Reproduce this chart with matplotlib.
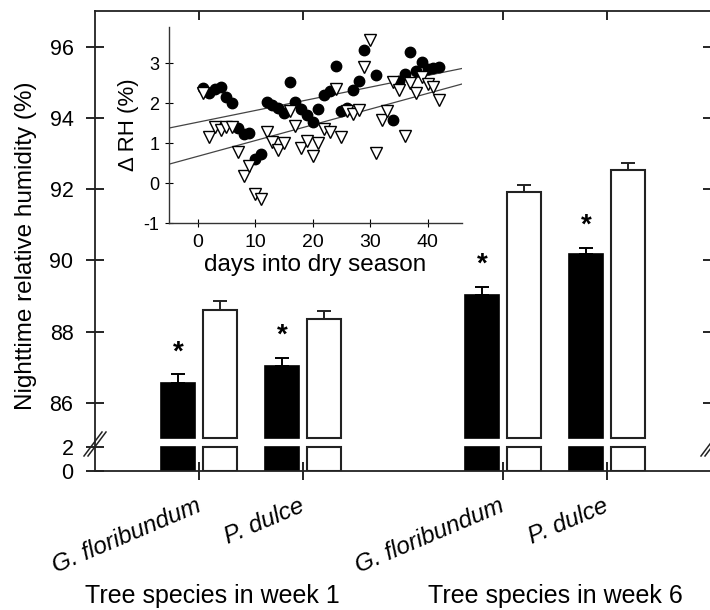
import numpy as np
import matplotlib
matplotlib.use("Agg")
import matplotlib.pyplot as plt
from matplotlib.lines import Line2D
from matplotlib.transforms import blended_transform_factory

plt.rcParams['font.family'] = ['Liberation Sans', 'DejaVu Sans']
plt.rcParams['axes.unicode_minus'] = False

# bar chart: week 1 G. floribundum, week 1 P. dulce, week 6 G. floribundum, week 6 P. dulce
species = ["G. floribundum", "P. dulce", "G. floribundum", "P. dulce"]
week_labels = ["Tree species in week 1", "Tree species in week 6"]
rh_filled = np.array([86.56, 87.03, 89.03, 90.17])
err_filled = np.array([0.24, 0.24, 0.23, 0.19])
rh_open = np.array([88.61, 88.35, 91.92, 92.55])
err_open = np.array([0.24, 0.22, 0.19, 0.19])
signif = [True, True, True, True]

# inset: delta RH vs days into dry season
days_circ = [1, 2, 3, 4, 5, 6, 7, 8, 9, 10, 11, 12, 13, 14, 15, 16, 17, 18, 19, 20,
             21, 22, 23, 24, 25, 26, 27, 28, 29, 31, 34, 35, 36, 37, 38, 39, 40, 41, 42]
drh_circ = [2.37, 2.25, 2.35, 2.40, 2.15, 2.00, 1.37, 1.22, 1.26, 0.60, 0.72, 2.03, 1.95,
            1.87, 1.75, 2.52, 2.02, 1.85, 1.70, 1.52, 1.85, 2.20, 2.31, 2.93, 1.80, 1.87,
            2.33, 2.56, 3.33, 2.70, 1.57, 2.55, 2.73, 3.27, 2.80, 3.02, 2.85, 2.88, 2.89]
days_tri = [1, 2, 3, 4, 5, 6, 7, 8, 9, 10, 11, 12, 13, 14, 15, 16, 17, 18, 19, 20, 21,
            22, 23, 24, 25, 26, 27, 28, 29, 30, 31, 32, 33, 34, 35, 36, 37, 38, 39, 40, 41, 42]
drh_tri = [2.24, 1.16, 1.41, 1.33, 1.41, 1.41, 0.78, 0.18, 0.42, -0.28, -0.40, 1.28, 1.02,
           0.82, 0.99, 1.79, 1.43, 0.87, 1.04, 0.68, 0.99, 1.35, 1.27, 2.35, 1.14, 1.81,
           1.72, 1.82, 2.91, 3.58, 0.74, 1.58, 1.79, 2.52, 2.33, 1.18, 2.49, 2.24, 2.66,
           2.48, 2.39, 2.08]
fit_circ = (1.52, 0.0292)   # intercept, slope
fit_tri = (0.667, 0.0393)

W, H = 710, 610


def box(l, t, r, b):
    return [l / W, 1 - b / H, (r - l) / W, (b - t) / H]


fig = plt.figure(figsize=(7.1, 6.1), dpi=100)
ax = fig.add_axes(box(95, 11, 712, 442))
axl = fig.add_axes(box(95, 442, 712, 471))

pos = np.array([1, 2, 3.92, 4.92])
off, bw = 0.2, 0.33
break_lo = 85.0

# upper part of the broken bars
ax.bar(pos - off, rh_filled - break_lo, bottom=break_lo, width=bw,
       color='black', edgecolor='black', lw=1.2)
ax.bar(pos + off, rh_open - break_lo, bottom=break_lo, width=bw,
       color='white', edgecolor='#222222', lw=1.5)
ax.errorbar(pos - off, rh_filled, yerr=[np.zeros(4), err_filled], fmt='none',
            ecolor='black', elinewidth=1.4, capsize=4.7, capthick=1.4)
ax.errorbar(pos + off, rh_open, yerr=[np.zeros(4), err_open], fmt='none',
            ecolor='#222222', elinewidth=1.4, capsize=4.7, capthick=1.4)
for x, v, e, s in zip(pos - off, rh_filled, err_filled, signif):
    if s:
        ax.text(x, v + e + 0.62, '*', ha='center', va='center',
                fontsize=20, fontweight='bold')

# lower part (0-2)
axl.bar(pos - off, np.minimum(rh_filled, 2), width=bw, color='black',
        edgecolor='black', lw=1.2)
axl.bar(pos + off, np.minimum(rh_open, 2), width=bw, color='white',
        edgecolor='#222222', lw=1.5)

for a in (ax, axl):
    a.set_xlim(0, 5.93)
    a.set_xticks(pos)
    for sp in a.spines.values():
        sp.set_linewidth(1.3)
        sp.set_color('#222222')

ax.set_ylim(84.9, 97)
ax.set_yticks([86, 88, 90, 92, 94, 96])
ax.spines['bottom'].set_visible(False)
ax.tick_params(axis='y', direction='inout', length=13, width=1.2,
               labelsize=15.5, left=True, right=True, pad=9)
ax.tick_params(axis='x', direction='in', length=6.5, width=1.2,
               top=True, bottom=False, labelbottom=False)

axl.set_ylim(0, 2.45)
axl.set_yticks([0, 2])
axl.spines['top'].set_visible(False)
axl.tick_params(axis='y', direction='inout', length=13, width=1.2,
                labelsize=15.5, left=True, right=False, pad=9)
axl.tick_params(axis='x', direction='inout', length=13, width=1.2,
                bottom=True, labelbottom=False)

# break marks on both y axes
for xc in (95, 712):
    for dx in (-2, 2):
        fig.add_artist(Line2D([(xc + dx - 9) / W, (xc + dx + 9) / W],
                              [1 - 456 / H, 1 - 432 / H],
                              color='#222222', lw=1.1))

fig.text(26 / W, 1 - 246 / H, 'Nighttime relative humidity (%)', rotation=90,
         ha='center', va='center', fontsize=17.5)

trans = blended_transform_factory(axl.transData, fig.transFigure)
for x, name in zip(pos, species):
    axl.text(x + 0.03, 1 - 511 / H, name, transform=trans, rotation=23,
             rotation_mode='anchor', ha='right', va='baseline',
             fontsize=17.5, style='italic')
fig.text(212 / W, 1 - 603 / H, week_labels[0], ha='center', va='baseline', fontsize=18)
fig.text(555 / W, 1 - 603 / H, week_labels[1], ha='center', va='baseline', fontsize=18)

# inset scatter
ins = fig.add_axes(box(169, 27, 462, 223))
ins.patch.set_alpha(0)
ins.set_xlim(-5, 46)
ins.set_ylim(-1, 3.9)
xx = np.array(ins.get_xlim())
ins.plot(xx, fit_circ[0] + fit_circ[1] * xx, color='#444444', lw=0.9)
ins.plot(xx, fit_tri[0] + fit_tri[1] * xx, color='#444444', lw=0.9)
ins.plot(days_circ, drh_circ, 'o', ms=7.5, color='black')
ins.plot(days_tri, drh_tri, 'v', ms=8.5, mfc='white', mec='black', mew=1.0)
ins.spines['top'].set_visible(False)
ins.spines['right'].set_visible(False)
for sp in ('left', 'bottom'):
    ins.spines[sp].set_linewidth(1.0)
    ins.spines[sp].set_color('#333333')
ins.set_xticks([0, 10, 20, 30, 40])
ins.set_yticks([-1, 0, 1, 2, 3])
ins.tick_params(axis='x', direction='inout', length=6, labelsize=14, pad=5)
ins.tick_params(axis='y', direction='inout', length=6, labelsize=13, pad=4)
ins.set_xlabel('days into dry season', fontsize=17.5, labelpad=2)
ins.set_ylabel('Δ RH (%)', fontsize=16, labelpad=3)

fig.savefig('out.png', dpi=100)
